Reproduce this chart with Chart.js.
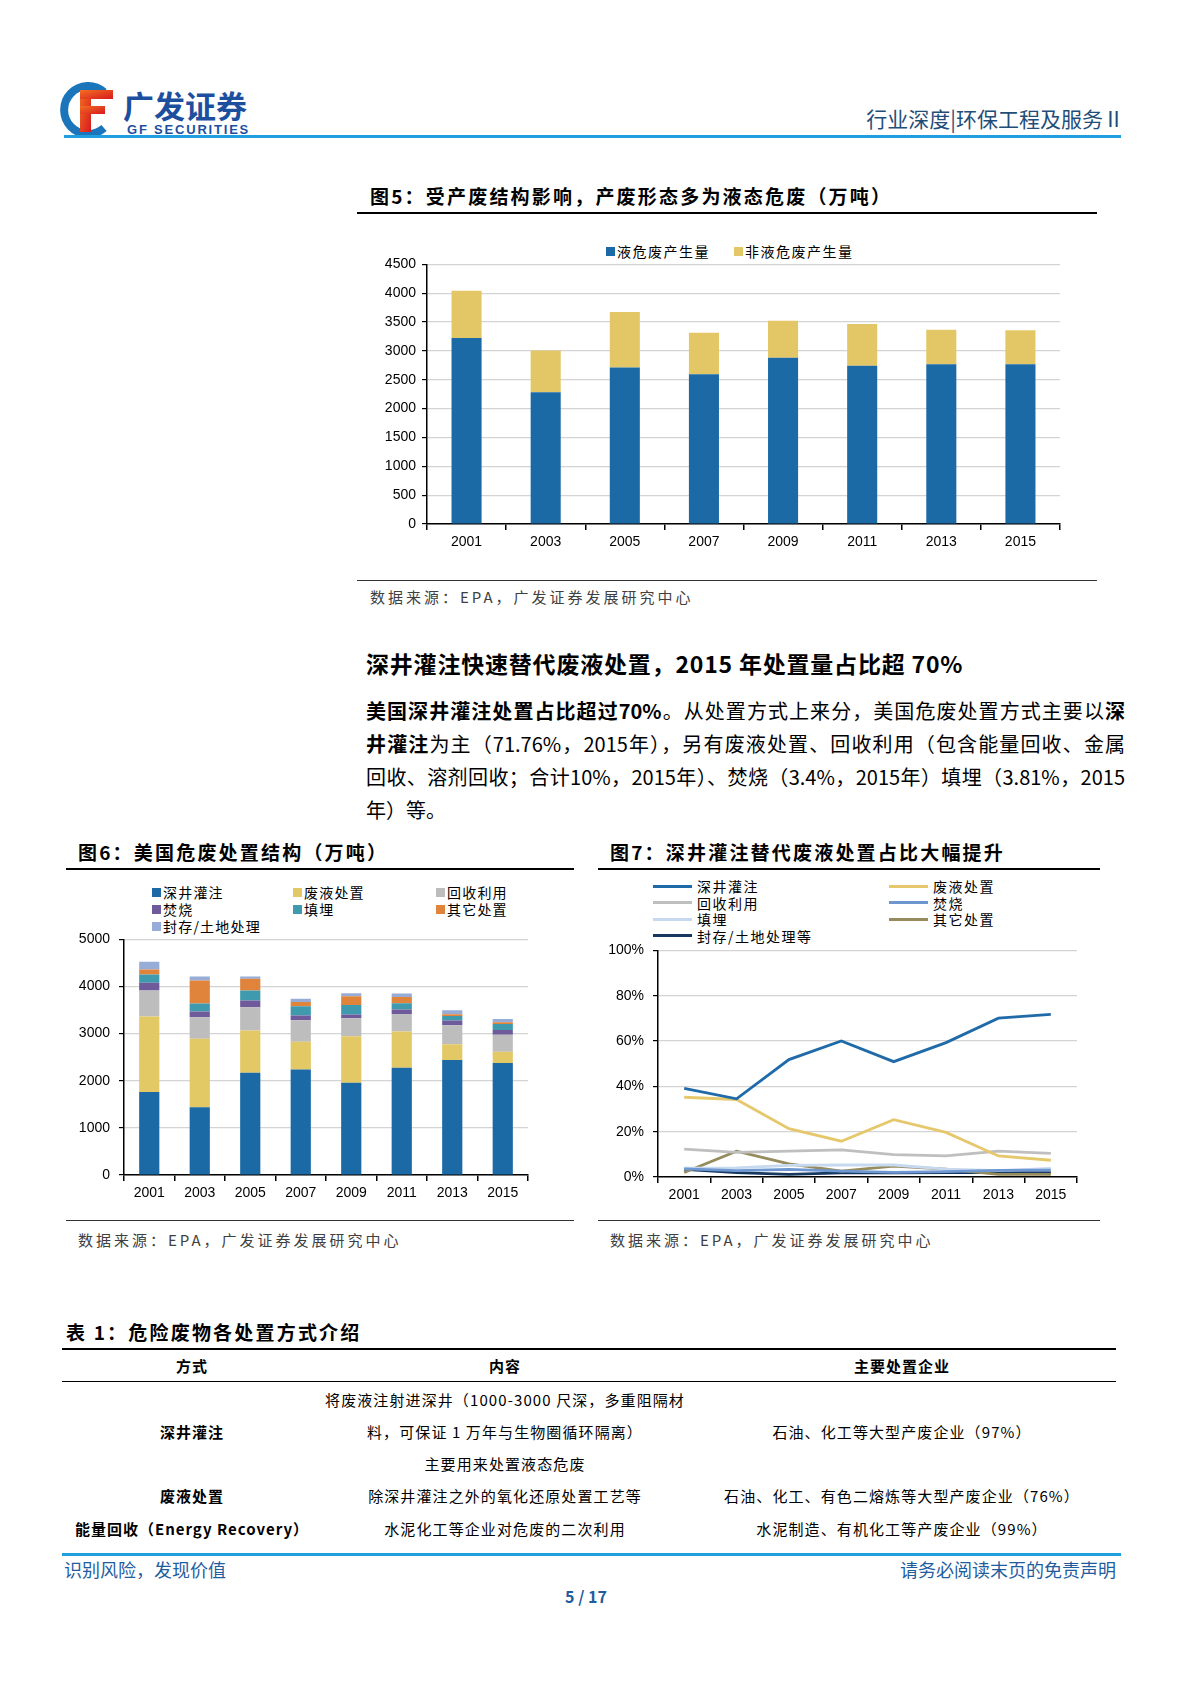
<!DOCTYPE html>
<html lang="zh-CN">
<head>
<meta charset="utf-8">
<title>行业深度 | 环保工程及服务Ⅱ</title>
<script src="https://cdn.jsdelivr.net/npm/chart.js@4.4.0/dist/chart.umd.min.js"></script>
<style>
  html, body { margin: 0; padding: 0; background: #fff; }
  body {
    width: 1190px; height: 1683px; position: relative; overflow: hidden;
    font-family: "Noto Sans CJK SC", "Liberation Sans", sans-serif; color: #000;
  }
  .abs { position: absolute; white-space: nowrap; }
  .rule { position: absolute; background: #000; }
  .fig-title { font-size: 19px; font-weight: bold; line-height: 24px; letter-spacing: 2.2px; }
  .source { font-size: 15px; line-height: 20px; color: #404040; letter-spacing: 3px; }
  .legend { position: absolute; font-size: 14px; line-height: 17px; letter-spacing: 1.5px; }
  .legend .item { display: flex; align-items: center; white-space: nowrap; }
  .legend .box { display: inline-block; width: 9px; height: 9px; margin-right: 2px; }
  .legend .ln { display: inline-block; width: 39px; height: 3px; margin-right: 5px; }
  #legend1 { left: 606px; top: 243px; display: flex; gap: 0; }
  #legend1 .item { width: 128px; }
  #legend2 { left: 152px; top: 884px; display: grid; grid-template-columns: 141px 143px auto; letter-spacing: 1.2px; }
  #legend3 { left: 653px; top: 878px; display: grid; grid-template-columns: 236px auto; line-height: 16.5px; }
  canvas { position: absolute; }
  .para { position: absolute; left: 366px; width: 759px; font-size: 20px; line-height: 33px; }
  .para div { text-align: justify; text-align-last: justify; white-space: nowrap; }
  .para div.last { text-align-last: left; }
  .tbl { font-size: 15px; line-height: 20px; letter-spacing: 1.1px; transform: translateX(-50%); }
  .tbl.h { font-weight: bold; letter-spacing: 1px; }
  .foot { font-size: 18px; line-height: 22px; color: #1f5d9f; }
</style>
</head>
<body>

<!-- header -->
<svg class="abs" style="left:60px; top:80px;" width="200" height="60" viewBox="0 0 200 60">
  <defs>
    <linearGradient id="fg" x1="0" y1="0" x2="1" y2="1">
      <stop offset="0" stop-color="#f36f21"/>
      <stop offset="1" stop-color="#d7191f"/>
    </linearGradient>
  </defs>
  <path d="M44 12 A24 24 0 1 0 44 48" fill="none" stroke="#1b75bb" stroke-width="8"/>
  <rect x="20" y="10" width="11" height="42" fill="url(#fg)"/>
  <rect x="20" y="10" width="33" height="9" fill="url(#fg)"/>
  <rect x="20" y="26" width="25" height="8" fill="url(#fg)"/>
  <text x="63" y="38" font-size="31" font-weight="bold" fill="#1d4f9f" font-family="Noto Sans CJK SC">广发证券</text>
  <text x="67" y="54" font-size="13" font-weight="bold" fill="#1d4f9f" font-family="Liberation Sans" letter-spacing="1.8">GF SECURITIES</text>
</svg>
<div class="abs" style="right:66px; top:105px; font-size:21px; line-height:26px; color:#1f4e79;">行业深度|环保工程及服务Ⅱ</div>
<div class="rule" style="left:64px; top:135px; width:1057px; height:3px; background:#1f9fe0;"></div>

<!-- 图5 -->
<div class="abs fig-title" style="left:370px; top:184px;">图5：受产废结构影响，产废形态多为液态危废（万吨）</div>
<div class="rule" style="left:357px; top:212px; width:740px; height:1.5px;"></div>
<div id="legend1" class="legend"></div>
<canvas id="chart1" width="700" height="305" style="left:370px; top:250px;"></canvas>
<div class="rule" style="left:357px; top:580px; width:740px; height:1px; background:#333;"></div>
<div class="abs source" style="left:370px; top:587px;">数据来源：EPA，广发证券发展研究中心</div>

<!-- 正文 -->
<div class="abs" style="left:366px; top:648px; font-size:23px; line-height:30px; font-weight:bold; letter-spacing:0.8px;">深井灌注快速替代废液处置，2015 年处置量占比超 70%</div>
<div class="para" style="top:694px;">
  <div><b>美国深井灌注处置占比超过70%</b>。从处置方式上来分，美国危废处置方式主要以<b>深</b></div>
  <div><b>井灌注</b>为主（71.76%，2015年），另有废液处置、回收利用（包含能量回收、金属</div>
  <div>回收、溶剂回收；合计10%，2015年）、焚烧（3.4%，2015年）填埋（3.81%，2015</div>
  <div class="last">年）等。</div>
</div>

<!-- 图6 -->
<div class="abs fig-title" style="left:78px; top:840px;">图6：美国危废处置结构（万吨）</div>
<div class="rule" style="left:66px; top:868px; width:508px; height:1.5px;"></div>
<div id="legend2" class="legend"></div>
<canvas id="chart2" width="480" height="288" style="left:66px; top:922px;"></canvas>
<div class="rule" style="left:66px; top:1220px; width:508px; height:1px; background:#333;"></div>
<div class="abs source" style="left:78px; top:1230px;">数据来源：EPA，广发证券发展研究中心</div>

<!-- 图7 -->
<div class="abs fig-title" style="left:610px; top:840px;">图7：深井灌注替代废液处置占比大幅提升</div>
<div class="rule" style="left:598px; top:868px; width:502px; height:1.5px;"></div>
<div id="legend3" class="legend"></div>
<canvas id="chart3" width="490" height="277" style="left:600px; top:933px;"></canvas>
<div class="rule" style="left:598px; top:1220px; width:502px; height:1px; background:#333;"></div>
<div class="abs source" style="left:610px; top:1230px;">数据来源：EPA，广发证券发展研究中心</div>

<!-- 表1 -->
<div class="abs fig-title" style="left:66px; top:1320px;">表 1：危险废物各处置方式介绍</div>
<div class="rule" style="left:62px; top:1348px; width:1054px; height:1.5px;"></div>
<div class="abs tbl h" style="left:192px; top:1356px;">方式</div>
<div class="abs tbl h" style="left:505px; top:1356px;">内容</div>
<div class="abs tbl h" style="left:902px; top:1356px;">主要处置企业</div>
<div class="rule" style="left:62px; top:1381px; width:1054px; height:1px;"></div>

<div class="abs tbl" style="left:505px; top:1390px;">将废液注射进深井（1000-3000 尺深，多重阻隔材</div>
<div class="abs tbl h" style="left:192px; top:1422px;">深井灌注</div>
<div class="abs tbl" style="left:505px; top:1422px;">料，可保证 1 万年与生物圈循环隔离）</div>
<div class="abs tbl" style="left:902px; top:1422px;">石油、化工等大型产废企业（97%）</div>
<div class="abs tbl" style="left:505px; top:1454px;">主要用来处置液态危废</div>
<div class="abs tbl h" style="left:192px; top:1486px;">废液处置</div>
<div class="abs tbl" style="left:505px; top:1486px;">除深井灌注之外的氧化还原处置工艺等</div>
<div class="abs tbl" style="left:902px; top:1486px;">石油、化工、有色二熔炼等大型产废企业（76%）</div>
<div class="abs tbl h" style="left:192px; top:1519px;">能量回收（Energy Recovery）</div>
<div class="abs tbl" style="left:505px; top:1519px;">水泥化工等企业对危废的二次利用</div>
<div class="abs tbl" style="left:902px; top:1519px;">水泥制造、有机化工等产废企业（99%）</div>

<!-- footer -->
<div class="rule" style="left:62px; top:1553px; width:1059px; height:3px; background:#1f9fe0;"></div>
<div class="abs foot" style="left:64px; top:1558px;">识别风险，发现价值</div>
<div class="abs foot" style="right:74px; top:1558px;">请务必阅读末页的免责声明</div>
<div class="abs foot" style="left:586px; top:1585px; transform:translateX(-50%); font-weight:bold; font-size:16px;">5 / 17</div>

<script>
// 年份
const years = ['2001', '2003', '2005', '2007', '2009', '2011', '2013', '2015'];

// 图5 液态 / 非液态危废产生量（万吨）
const liquidHW = [3223, 2282, 2712, 2596, 2880, 2741, 2770, 2770];
const nonLiquidHW = [819, 726, 964, 720, 645, 726, 598, 587];

// 图6 美国危废处置结构（万吨）
const deepWell = [1759, 1440, 2170, 2241, 1957, 2277, 2440, 2376];
const wasteLiquid = [1603, 1454, 894, 589, 986, 766, 333, 241];
const recovery = [553, 454, 496, 454, 383, 375, 404, 362];
const incineration = [163, 120, 142, 99, 78, 93, 100, 99];
const landfill = [177, 170, 213, 199, 206, 134, 99, 128];
const otherDisposal = [107, 490, 248, 92, 184, 135, 35, 35];
const storage = [163, 85, 50, 64, 64, 71, 85, 71];

// 图7 各处置方式占比（%）
const deepWellPct = [39.1, 34.5, 51.8, 60.0, 50.9, 59.3, 70.1, 71.8];
const wasteLiquidPct = [35.2, 34.2, 21.3, 15.8, 25.3, 19.7, 9.3, 7.4];
const recoveryPct = [12.3, 10.9, 11.4, 12.0, 9.9, 9.3, 11.4, 10.4];
const incinerationPct = [3.6, 2.8, 3.4, 2.6, 2.0, 2.4, 2.9, 3.0];
const landfillPct = [3.9, 4.0, 5.1, 5.3, 5.3, 3.5, 2.8, 3.8];
const otherPct = [2.0, 11.4, 5.8, 2.6, 4.8, 3.5, 1.2, 1.2];
const storagePct = [3.4, 1.9, 1.2, 1.8, 1.8, 1.9, 1.9, 1.9];

const tickFont = { family: 'Liberation Sans', size: 14 };

function yScale(max, step, width, pad, fmt) {
    return {
        min: 0, max: max, stacked: true,
        border: { color: '#000', width: 1.5 },
        grid: { color: '#d4d4d4', lineWidth: 1.2, tickColor: '#000', tickLength: 5 },
        ticks: { stepSize: step, color: '#000', font: tickFont, padding: pad, callback: fmt },
        afterFit: s => { s.width = width; }
    };
}

function xScale(height, stacked) {
    return {
        stacked: stacked, offset: true,
        border: { color: '#000', width: 1.5 },
        grid: { offset: true, drawOnChartArea: false, color: '#000', lineWidth: 1.5, tickLength: 6 },
        ticks: { color: '#000', font: tickFont, padding: 4, maxRotation: 0, autoSkip: false },
        afterFit: s => { s.height = height; }
    };
}

function baseOptions(pad) {
    return {
        responsive: false,
        animation: false,
        layout: { padding: pad },
        plugins: { legend: { display: false }, tooltip: { enabled: false } }
    };
}

function buildLegend(id, items, kind) {
    const el = document.getElementById(id);
    items.forEach(it => {
        const d = document.createElement('div');
        d.className = 'item';
        const sw = document.createElement('span');
        sw.className = kind;
        sw.style.background = it.color;
        d.appendChild(sw);
        d.appendChild(document.createTextNode(it.label));
        el.appendChild(d);
    });
}

// 图5
const fig5Series = [
    { label: '液危废产生量', data: liquidHW, color: '#1c6aa5' },
    { label: '非液危废产生量', data: nonLiquidHW, color: '#e3c766' }
];
buildLegend('legend1', fig5Series, 'box');
new Chart(document.getElementById('chart1'), {
    type: 'bar',
    data: {
        labels: years,
        datasets: fig5Series.map(s => ({
            label: s.label, data: s.data, backgroundColor: s.color,
            categoryPercentage: 1, barPercentage: 0.38
        }))
    },
    options: Object.assign(baseOptions({ top: 9, left: 0, right: 10, bottom: 0 }), {
        scales: {
            x: xScale(31, true),
            y: yScale(4500, 500, 57, 6)
        }
    })
});

// 图6
const fig6Series = [
    { label: '深井灌注', data: deepWell, color: '#1c6aa5' },
    { label: '废液处置', data: wasteLiquid, color: '#e3c866' },
    { label: '回收利用', data: recovery, color: '#bdbdbd' },
    { label: '焚烧', data: incineration, color: '#6f5a9c' },
    { label: '填埋', data: landfill, color: '#409aae' },
    { label: '其它处置', data: otherDisposal, color: '#e0843c' },
    { label: '封存/土地处理', data: storage, color: '#97acd6' }
];
buildLegend('legend2', fig6Series, 'box');
new Chart(document.getElementById('chart2'), {
    type: 'bar',
    data: {
        labels: years,
        datasets: fig6Series.map(s => ({
            label: s.label, data: s.data, backgroundColor: s.color,
            categoryPercentage: 1, barPercentage: 0.4
        }))
    },
    options: Object.assign(baseOptions({ top: 9, left: 0, right: 18, bottom: 0 }), {
        scales: {
            x: xScale(35, true),
            y: yScale(5000, 1000, 58, 9)
        }
    })
});

// 图7
const fig7Series = [
    { label: '深井灌注', data: deepWellPct, color: '#1f6aa8' },
    { label: '废液处置', data: wasteLiquidPct, color: '#e6c86c' },
    { label: '回收利用', data: recoveryPct, color: '#bfbfbf' },
    { label: '焚烧', data: incinerationPct, color: '#6e97d2' },
    { label: '填埋', data: landfillPct, color: '#c6d9ef' },
    { label: '其它处置', data: otherPct, color: '#958b5c' },
    { label: '封存/土地处理等', data: storagePct, color: '#17385f' }
];
buildLegend('legend3', fig7Series, 'ln');
const y3 = yScale(100, 20, 58, 9, v => v + '%');
y3.stacked = false;
new Chart(document.getElementById('chart3'), {
    type: 'line',
    data: {
        labels: years,
        datasets: fig7Series.map(s => ({
            label: s.label, data: s.data, borderColor: s.color, backgroundColor: s.color,
            borderWidth: 2.8, pointRadius: 0, tension: 0, fill: false
        }))
    },
    options: Object.assign(baseOptions({ top: 10, left: 0, right: 13, bottom: 0 }), {
        scales: {
            x: xScale(33, false),
            y: y3
        }
    })
});
</script>
</body>
</html>
